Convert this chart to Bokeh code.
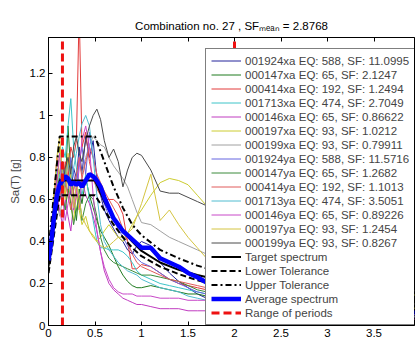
from bokeh.plotting import figure
from bokeh.models import Range1d, LinearAxis, Legend, LegendItem, FixedTicker
from bokeh.embed import file_html
from bokeh.resources import INLINE

# ---------------- data ----------------
periods = [0, 0.03, 0.06, 0.09, 0.12, 0.15, 0.18, 0.21, 0.24, 0.27,
           0.30, 0.33, 0.36, 0.40, 0.44, 0.48, 0.52, 0.56, 0.60, 0.65,
           0.70, 0.75, 0.80, 0.85, 0.90, 0.95, 1.00, 1.10, 1.20, 1.30,
           1.40, 1.50, 1.60, 1.70, 1.80, 2.00, 2.50, 3.00, 3.50, 4.00]

rec_001924xa = [0.30, 0.38, 0.55, 0.62, 0.70, 0.58, 0.66, 0.80, 0.62, 0.75,
                0.70, 0.85, 0.72, 0.90, 0.80, 0.88, 0.70, 0.62, 0.55, 0.50,
                0.46, 0.42, 0.40, 0.36, 0.34, 0.38, 0.40, 0.38, 0.30, 0.25,
                0.21, 0.18, 0.15, 0.13, 0.12, 0.11, 0.08, 0.06, 0.05, 0.04]
rec_000147xa = [0.29, 0.36, 0.50, 0.70, 0.60, 0.78, 0.66, 0.95, 0.72, 0.62,
                0.50, 0.65, 0.58, 0.70, 0.62, 0.56, 0.50, 0.45, 0.42, 0.38,
                0.33, 0.28, 0.24, 0.21, 0.19, 0.18, 0.18, 0.19, 0.18, 0.17,
                0.16, 0.15, 0.15, 0.14, 0.13, 0.12, 0.09, 0.07, 0.05, 0.04]
rec_000414xa = [0.31, 0.40, 0.62, 0.80, 0.72, 0.66, 0.78, 0.70, 0.85, 0.80,
                0.88, 1.50, 0.85, 0.92, 0.78, 0.70, 0.65, 0.62, 0.60, 0.60,
                0.60, 0.58, 0.53, 0.40, 0.27, 0.27, 0.29, 0.28, 0.25, 0.22,
                0.20, 0.19, 0.18, 0.17, 0.16, 0.14, 0.11, 0.08, 0.06, 0.05]
rec_001713xa = [0.30, 0.42, 0.60, 0.75, 0.70, 0.85, 0.80, 0.95, 1.08, 0.85,
                0.75, 0.68, 0.62, 0.72, 0.60, 0.50, 0.40, 0.37, 0.37, 0.36,
                0.36, 0.36, 0.35, 0.33, 0.30, 0.26, 0.24, 0.22, 0.20, 0.19,
                0.18, 0.17, 0.16, 0.15, 0.14, 0.13, 0.10, 0.08, 0.06, 0.05]
rec_000146xa = [0.29, 0.35, 0.48, 0.62, 0.55, 0.48, 0.60, 0.52, 0.45, 0.58,
                0.66, 0.55, 0.70, 0.62, 0.58, 0.52, 0.45, 0.35, 0.26, 0.20,
                0.17, 0.15, 0.13, 0.12, 0.11, 0.10, 0.10, 0.09, 0.08, 0.08,
                0.08, 0.07, 0.07, 0.07, 0.06, 0.06, 0.05, 0.04, 0.03, 0.03]
rec_000197xa = [0.31, 0.45, 0.65, 0.58, 0.85, 0.75, 0.62, 0.70, 0.58, 0.50,
                0.62, 0.55, 0.48, 0.52, 0.45, 0.42, 0.40, 0.42, 0.45, 0.48,
                0.45, 0.42, 0.40, 0.44, 0.48, 0.52, 0.55, 0.62, 0.68, 0.70,
                0.69, 0.67, 0.62, 0.57, 0.52, 0.45, 0.32, 0.23, 0.18, 0.14]
rec_000199xa = [0.30, 0.38, 0.50, 0.58, 0.52, 0.60, 0.55, 0.66, 0.72, 0.64,
                0.70, 0.78, 0.72, 0.80, 0.86, 0.90, 0.88, 0.86, 0.85, 0.80,
                0.76, 0.73, 0.70, 0.66, 0.60, 0.54, 0.49, 0.48, 0.45, 0.42,
                0.40, 0.38, 0.36, 0.34, 0.32, 0.28, 0.20, 0.15, 0.12, 0.10]
rec_001924ya = [0.30, 0.42, 0.58, 0.66, 0.60, 0.75, 0.68, 0.62, 0.80, 0.72,
                0.66, 0.78, 0.85, 0.72, 0.92, 0.80, 0.72, 0.62, 0.58, 0.52,
                0.50, 0.46, 0.42, 0.38, 0.35, 0.32, 0.30, 0.28, 0.25, 0.22,
                0.20, 0.18, 0.16, 0.15, 0.14, 0.12, 0.09, 0.07, 0.06, 0.05]
rec_000147ya = [0.30, 0.38, 0.52, 0.60, 0.68, 0.62, 0.55, 0.65, 0.58, 0.48,
                0.55, 0.62, 0.50, 0.58, 0.62, 0.60, 0.52, 0.42, 0.36, 0.32,
                0.30, 0.29, 0.28, 0.27, 0.26, 0.25, 0.24, 0.24, 0.23, 0.22,
                0.21, 0.19, 0.17, 0.16, 0.15, 0.13, 0.10, 0.08, 0.06, 0.05]
rec_000414ya = [0.30, 0.40, 0.60, 0.72, 0.65, 0.58, 0.70, 0.62, 0.55, 0.65,
                0.72, 0.80, 0.70, 0.78, 0.85, 0.80, 0.72, 0.68, 0.64, 0.60,
                0.56, 0.52, 0.46, 0.40, 0.34, 0.30, 0.28, 0.26, 0.24, 0.22,
                0.21, 0.20, 0.19, 0.18, 0.17, 0.15, 0.11, 0.08, 0.06, 0.05]
rec_001713ya = [0.30, 0.40, 0.55, 0.65, 0.72, 0.62, 0.70, 0.78, 0.68, 0.75,
                0.82, 0.90, 0.96, 1.00, 0.95, 0.80, 0.62, 0.48, 0.40, 0.36,
                0.33, 0.30, 0.28, 0.26, 0.25, 0.24, 0.22, 0.20, 0.18, 0.17,
                0.16, 0.14, 0.13, 0.12, 0.11, 0.10, 0.08, 0.06, 0.05, 0.04]
rec_000146ya = [0.29, 0.36, 0.52, 0.70, 0.82, 0.62, 0.50, 0.58, 0.66, 0.55,
                0.62, 0.75, 0.88, 0.95, 0.85, 0.62, 0.45, 0.35, 0.28, 0.22,
                0.18, 0.16, 0.15, 0.15, 0.15, 0.14, 0.14, 0.14, 0.13, 0.13,
                0.13, 0.12, 0.12, 0.12, 0.11, 0.10, 0.08, 0.06, 0.05, 0.04]
rec_000197ya = [0.31, 0.44, 0.62, 0.80, 0.90, 0.72, 0.60, 0.82, 0.70, 0.56,
                0.68, 0.60, 0.52, 0.48, 0.45, 0.43, 0.40, 0.38, 0.37, 0.38,
                0.40, 0.42, 0.42, 0.44, 0.46, 0.52, 0.58, 0.72, 0.50, 0.55,
                0.48, 0.42, 0.37, 0.32, 0.29, 0.24, 0.17, 0.13, 0.10, 0.08]
rec_000199ya = [0.30, 0.40, 0.55, 0.62, 0.70, 0.66, 0.75, 0.80, 0.72, 0.85,
                0.90, 0.82, 0.78, 0.88, 0.95, 1.00, 1.03, 0.98, 0.88, 0.80,
                0.84, 0.78, 0.66, 0.74, 0.80, 0.82, 0.81, 0.74, 0.64, 0.63,
                0.63, 0.61, 0.59, 0.57, 0.55, 0.48, 0.35, 0.25, 0.20, 0.16]

average_spectrum = [0.31, 0.40, 0.52, 0.62, 0.67, 0.69, 0.71, 0.70, 0.67, 0.68,
                    0.67, 0.68, 0.66, 0.69, 0.72, 0.71, 0.69, 0.66, 0.61, 0.56,
                    0.51, 0.48, 0.45, 0.43, 0.41, 0.39, 0.37, 0.37, 0.32, 0.30,
                    0.28, 0.25, 0.23, 0.205, 0.19, 0.17, 0.12, 0.09, 0.07, 0.06]

target_periods = [0, 0.12, 0.5, 0.6, 0.7, 0.8, 0.9, 1.0, 1.2, 1.4, 1.6, 1.8,
                  2.0, 2.5, 3.0, 3.5, 4.0]
target_spectrum = [0.28, 0.69, 0.69, 0.59, 0.51, 0.45, 0.40, 0.355, 0.30, 0.265,
                   0.24, 0.22, 0.20, 0.17, 0.14, 0.12, 0.105]
lower_tolerance = [0.25, 0.62, 0.62, 0.55, 0.48, 0.42, 0.37, 0.33, 0.28, 0.245,
                   0.215, 0.195, 0.18, 0.15, 0.125, 0.11, 0.095]
upper_tolerance = [0.36, 0.90, 0.90, 0.78, 0.66, 0.56, 0.48, 0.43, 0.36, 0.32,
                   0.285, 0.26, 0.24, 0.20, 0.17, 0.145, 0.125]

range_of_periods = [0.15, 2.0]

record_labels = ["001924xa EQ: 588, SF: 11.0995", "000147xa EQ: 65, SF: 2.1247",
                 "000414xa EQ: 192, SF: 1.2494", "001713xa EQ: 474, SF: 2.7049",
                 "000146xa EQ: 65, SF: 0.86622", "000197xa EQ: 93, SF: 1.0212",
                 "000199xa EQ: 93, SF: 0.79911", "001924ya EQ: 588, SF: 11.5716",
                 "000147ya EQ: 65, SF: 1.2682", "000414ya EQ: 192, SF: 1.1013",
                 "001713ya EQ: 474, SF: 3.5051", "000146ya EQ: 65, SF: 0.89226",
                 "000197ya EQ: 93, SF: 1.2454", "000199ya EQ: 93, SF: 0.8267"]
record_values = [rec_001924xa, rec_000147xa, rec_000414xa, rec_001713xa,
                 rec_000146xa, rec_000197xa, rec_000199xa, rec_001924ya,
                 rec_000147ya, rec_000414ya, rec_001713ya, rec_000146ya,
                 rec_000197ya, rec_000199ya]

title_text = "Combination no. 27 , SF\u2098\u2091\u2090\u2099 = 2.8768"
x_ticks = [0, 0.5, 1, 1.5, 2, 2.5, 3, 3.5]
x_tick_labels = ["0", "0.5", "1", "1.5", "2", "2.5", "3", "3.5"]
y_ticks = [0, 0.2, 0.4, 0.6, 0.8, 1.0, 1.2]
y_tick_labels = ["0", "0.2", "0.4", "0.6", "0.8", "1", "1.2"]

# ---------------- style ----------------
record_colors = ["#22229a", "#1f7a1f", "#e23a3a", "#3cc4c8", "#c03cc0", "#cccc30",
                 "#a0a0a0", "#6464e0", "#3a8a3a", "#e05a5a", "#50bcd0", "#c848c8",
                 "#d4c440", "#4a4a4a"]
FONT = "Liberation Sans"

p = figure(width=416, height=351, output_backend="svg", toolbar_location=None,
           x_range=Range1d(0, 3.935), y_range=Range1d(0, 1.371),
           min_border_left=48, min_border_right=2, min_border_top=37, min_border_bottom=26)
p.title.text = title_text
p.title.align = "center"
p.title.offset = 2
p.title.text_font = FONT
p.title.text_font_size = "11.5px"
p.title.text_font_style = "normal"
p.title.text_color = "black"
p.title.standoff = 11
p.background_fill_color = "white"
p.border_fill_color = "white"
p.outline_line_color = "black"
p.outline_line_width = 1
p.xgrid.visible = False
p.ygrid.visible = False

for ax in (p.xaxis[0], p.yaxis[0]):
    ax.major_tick_in = 4
    ax.major_tick_out = 0
    ax.minor_tick_line_color = None
    ax.axis_line_color = "black"
    ax.major_label_text_font = FONT
    ax.major_label_text_font_size = "11.5px"
    ax.major_label_text_color = "black"
p.xaxis[0].ticker = FixedTicker(ticks=x_ticks)
p.xaxis[0].major_label_overrides = dict(zip(x_ticks, x_tick_labels))
p.xaxis[0].major_label_standoff = 3
p.yaxis[0].ticker = FixedTicker(ticks=y_ticks)
p.yaxis[0].major_label_overrides = dict(zip(y_ticks, y_tick_labels))
p.yaxis[0].major_label_standoff = 3
p.yaxis[0].axis_label = "Sa(T) [g]"
p.yaxis[0].axis_label_text_font = FONT
p.yaxis[0].axis_label_text_font_size = "11.5px"
p.yaxis[0].axis_label_text_font_style = "normal"
p.yaxis[0].axis_label_standoff = 6

top_axis = LinearAxis(ticker=FixedTicker(ticks=x_ticks), major_tick_in=4, major_tick_out=0,
                      minor_tick_line_color=None, major_label_text_font_size="1px",
                      major_label_text_color=None, major_label_standoff=0)
p.add_layout(top_axis, "above")

items = []
for lab, vals, col in zip(record_labels, record_values, record_colors):
    r = p.line(periods, vals, line_color=col, line_width=1)
    items.append(LegendItem(label=lab, renderers=[r]))

r_t = p.line(target_periods, target_spectrum, line_color="black", line_width=2)
r_lo = p.line(target_periods, lower_tolerance, line_color="black", line_width=2, line_dash="6 3")
r_up = p.line(target_periods, upper_tolerance, line_color="black", line_width=2, line_dash="6 3 2 3")
r_avg = p.line(periods, average_spectrum, line_color="#0000ff", line_width=4.5)
y_top = p.y_range.end
r_rng = p.segment(x0=range_of_periods, y0=[0] * len(range_of_periods),
                  x1=range_of_periods, y1=[y_top] * len(range_of_periods),
                  line_color="#ee1111", line_width=3, line_dash="8 4")
items += [LegendItem(label="Target spectrum", renderers=[r_t]),
          LegendItem(label="Lower Tolerance", renderers=[r_lo]),
          LegendItem(label="Upper Tolerance", renderers=[r_up]),
          LegendItem(label="Average spectrum", renderers=[r_avg]),
          LegendItem(label="Range of periods", renderers=[r_rng])]

legend = Legend(items=items, location=(157, 0), border_line_color="black",
                border_line_width=1, background_fill_color="white", background_fill_alpha=1,
                label_text_font=FONT, label_text_font_size="11.5px",
                glyph_width=30, glyph_height=13, label_height=13, spacing=1,
                padding=5, margin=0, label_standoff=4, label_width=60)
p.add_layout(legend, "center")

open("out.html", "w").write(file_html(p, INLINE))
